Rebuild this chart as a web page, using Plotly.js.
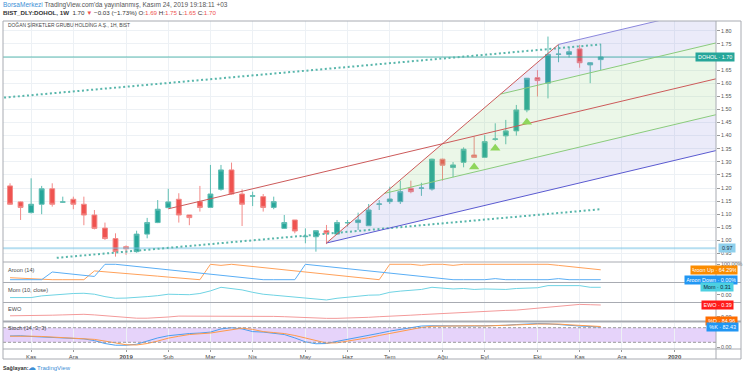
<!DOCTYPE html>
<html><head><meta charset="utf-8">
<script src="https://cdn.plot.ly/plotly-3.0.1.min.js"></script>
<style>html,body{margin:0;padding:0;background:#fff}#chart{width:745px;height:375px}</style>
</head><body><div id="chart"></div>
<script>
// ---- weekly bars (week start) ----
const weeks = ['2018-10-22','2018-10-29','2018-11-05','2018-11-12','2018-11-19','2018-11-26','2018-12-03','2018-12-10','2018-12-17','2018-12-24',
'2018-12-31','2019-01-07','2019-01-14','2019-01-21','2019-01-28','2019-02-04','2019-02-11','2019-02-18','2019-02-25','2019-03-04',
'2019-03-11','2019-03-18','2019-03-25','2019-04-01','2019-04-08','2019-04-15','2019-04-22','2019-04-29','2019-05-06','2019-05-13',
'2019-05-20','2019-05-27','2019-06-03','2019-06-10','2019-06-17','2019-06-24','2019-07-01','2019-07-08','2019-07-15','2019-07-22',
'2019-07-29','2019-08-05','2019-08-12','2019-08-19','2019-08-26','2019-09-02','2019-09-09','2019-09-16','2019-09-23','2019-09-30',
'2019-10-07','2019-10-14','2019-10-21','2019-10-28','2019-11-04','2019-11-11','2019-11-18'];
const openP  = [1.208,1.147,1.106,1.138,1.197,1.146,1.157,1.138,1.097,1.047,1.007,0.976,0.957,1.024,1.068,1.125,1.157,1.097,1.148,1.126,
1.195,1.269,1.177,1.169,1.167,1.126,1.046,1.078,1.014,1.014,1.037,1.024,1.067,1.068,1.056,1.138,1.148,1.148,1.199,1.199,
1.196,1.310,1.278,1.298,1.326,1.317,1.386,1.399,1.418,1.498,1.621,1.600,1.710,1.710,1.731,1.670,1.69];
const highP  = [1.218,1.149,1.237,1.208,1.218,1.167,1.167,1.167,1.116,1.068,1.027,0.981,1.037,1.086,1.154,1.197,1.180,1.097,1.208,1.288,
1.288,1.297,1.195,1.186,1.177,1.167,1.097,1.078,1.046,1.037,1.059,1.078,1.078,1.106,1.139,1.154,1.205,1.228,1.228,1.220,
1.312,1.312,1.299,1.355,1.396,1.402,1.447,1.460,1.517,1.620,1.650,1.778,1.746,1.739,1.746,1.680,1.75];
const lowP   = [1.136,1.078,1.103,1.100,1.129,1.144,1.119,1.058,1.042,1.002,0.938,0.945,0.953,1.008,1.066,1.123,1.068,1.058,1.110,1.126,
1.190,1.175,1.055,1.131,1.110,1.119,1.045,1.027,0.989,0.957,0.986,1.022,1.053,1.040,1.056,1.116,1.139,1.139,1.180,1.170,
1.190,1.228,1.241,1.279,1.316,1.316,1.380,1.367,1.400,1.489,1.549,1.542,1.680,1.698,1.659,1.600,1.65];
const closeP = [1.138,1.126,1.138,1.197,1.138,1.147,1.138,1.097,1.046,1.007,0.957,0.968,1.024,1.068,1.119,1.147,1.097,1.087,1.126,1.177,
1.269,1.177,1.138,1.170,1.126,1.148,1.068,1.036,1.016,1.037,1.026,1.068,1.068,1.078,1.116,1.139,1.158,1.186,1.186,1.200,
1.310,1.287,1.288,1.348,1.317,1.377,1.387,1.418,1.498,1.619,1.610,1.710,1.711,1.720,1.678,1.678,1.70];

// ---- indicators ----
const aroonUp = [13,9,5,0,0,0,0,0,57,52,46,40,35,29,23,17,11,6,0,100,
93,100,93,86,79,71,64,57,50,43,36,29,21,14,7,0,100,100,100,93,
100,100,93,100,100,100,100,100,100,100,100,100,93,86,79,71,64.29];
const aroonDown = [0,0,0,0,50,43,36,29,21,100,100,93,86,79,71,64,57,50,43,36,
29,21,14,7,0,0,0,0,100,93,86,79,71,64,57,50,43,36,29,21,
14,7,0,0,0,0,7,0,0,0,0,0,7,0,0,0,0];
const momentum = [-0.12,-0.12,-0.12,-0.05,-0.01,0.02,0.05,0.06,0.02,-0.08,-0.15,-0.14,-0.12,-0.08,-0.04,0.02,0.01,0.00,0.05,0.16,
0.31,0.25,0.20,0.10,0.02,-0.02,-0.06,-0.10,-0.13,-0.18,-0.22,-0.15,-0.10,-0.06,-0.02,-0.01,0.10,0.15,0.20,0.22,
0.31,0.26,0.24,0.26,0.22,0.24,0.23,0.22,0.26,0.28,0.29,0.38,0.38,0.38,0.38,0.31,0.31];
const ewo = [0.03,0.03,0.03,0.04,0.05,0.06,0.07,0.08,0.06,0.03,0.00,-0.03,-0.05,-0.05,-0.04,-0.01,0.02,0.02,0.02,0.02,
0.02,0.03,0.03,0.03,0.02,0.01,0.00,-0.02,-0.03,-0.05,-0.055,-0.055,-0.05,-0.04,-0.02,0.00,0.01,0.03,0.05,0.07,
0.09,0.11,0.13,0.15,0.16,0.18,0.19,0.21,0.22,0.25,0.29,0.32,0.36,0.39,0.41,0.40,0.39];
const stochK = [46,47,44,42,40,38,36,34,27,15,8,8,12,25,38,47,52,56,58,62,
75,80,75,64,62,58,52,38,22,14,15,24,32,38,48,57,66,74,82,87,
88,87,88,88,87,88,88,90,93,96,97,96,92,89,87,85,82.43];
const stochD = [45,46,45,44,42,40,38,36,32,25,17,10,9,15,25,37,45,52,55,58,
65,72,78,73,64,60,56,48,37,25,17,18,24,31,39,48,56,66,74,81,
86,87,87,88,88,87,88,88,90,93,95,96,95,92,89,87,84.96];

// ---- axis labels ----
const monthTickDates = ['2018-11-05','2018-12-03','2019-01-07','2019-02-04','2019-03-04','2019-04-01','2019-05-06','2019-06-03',
'2019-07-01','2019-08-05','2019-09-02','2019-10-07','2019-11-04','2019-12-02','2020-01-06'];
const monthTickLabels = ['Kas','Ara','<b>2019</b>','Şub','Mar','Nis','May','Haz','Tem','Ağu','Eyl','Eki','Kas','Ara','<b>2020</b>'];
const priceTicks = [0.95,1.00,1.05,1.10,1.15,1.20,1.25,1.30,1.35,1.40,1.45,1.50,1.55,1.60,1.65,1.70,1.75,1.80];

// ---- drawings ----
const signalDates = ['2019-08-26','2019-09-09','2019-09-30'];
const signalPrices = [1.280,1.352,1.451];
const lastPrice = 1.70;
const markedLevel = 0.97;
const upperDotted = [['2018-10-15',1.5435],['2019-11-18',1.748]];
const lowerDotted = [['2018-11-22',0.9335],['2019-11-18',1.119]];
const channelP = ['2019-05-20',0.990];
const channelA = ['2019-10-21',1.748];
const channelB = ['2020-01-27',1.334];
const channelLevels = [0,0.25,0.5,0.75,1];
const midLineStart = '2019-02-04';

const xRange = ['2018-10-17 08:00','2020-02-02 12:00'];

// ---- geometry helpers ----
const ms = d => Date.parse(d);
const tP = ms(channelP[0]), tA = ms(channelA[0]), tB = ms(channelB[0]);
const slope = (channelB[1]-channelP[1])/(tB-tP);
const lowerAt = t => channelP[1] + slope*(t-tP);
const W = channelA[1] - lowerAt(tA);
const levelAt = (t,f) => lowerAt(t) + f*W;
const steep = f => [tP + f*(tA-tP), channelP[1] + f*(channelA[1]-channelP[1])];
const tExt = ms('2020-08-01');
function poly(f0,f1){
  const a=steep(f0), b=steep(f1);
  return {x:[a[0],b[0],tExt,tExt,a[0]], y:[a[1],b[1],levelAt(tExt,f1),levelAt(tExt,f0),a[1]]};
}
const traces = [];
const lav='rgba(118,118,215,0.15)', grn='rgba(130,205,110,0.16)';
[[0,0.25,lav],[0.25,0.75,grn],[0.75,1,lav]].forEach(([f0,f1,c])=>{
  const p=poly(f0,f1);
  traces.push({type:'scatter',mode:'lines',x:p.x,y:p.y,fill:'toself',fillcolor:c,line:{width:0},hoverinfo:'skip',xaxis:'x',yaxis:'y'});
});
// horizontal lines
traces.push({type:'scatter',mode:'lines',x:xRange,y:[markedLevel,markedLevel],line:{color:'rgba(120,195,230,0.55)',width:2},hoverinfo:'skip'});
traces.push({type:'scatter',mode:'lines',x:xRange,y:[lastPrice,lastPrice],line:{color:'rgba(38,166,154,0.75)',width:1},hoverinfo:'skip'});
// dotted channel
[upperDotted,lowerDotted].forEach(l=>{
  traces.push({type:'scatter',mode:'lines',x:l.map(p=>p[0]),y:l.map(p=>p[1]),line:{color:'#58b6ab',width:2,dash:'2px,2.6px'},hoverinfo:'skip'});
});
// fib-like channel lines
const levelColors = {0:'#5a5ad0',0.25:'#8acb7c',0.5:'#cc5a5a',0.75:'#8acb7c',1:'#8a86dc'};
channelLevels.forEach(f=>{
  let t0 = (f===0.5) ? ms(midLineStart) : steep(f)[0];
  traces.push({type:'scatter',mode:'lines',x:[t0,tExt],y:[levelAt(t0,f),levelAt(tExt,f)],line:{color:levelColors[f],width:1},hoverinfo:'skip'});
});
traces.push({type:'scatter',mode:'lines',x:[channelP[0],channelA[0]],y:[channelP[1],channelA[1]],line:{color:'#cc5a5a',width:1},hoverinfo:'skip'});
// candles
traces.push({type:'candlestick',x:weeks,open:openP,high:highP,low:lowP,close:closeP,xaxis:'x',yaxis:'y',
  increasing:{fillcolor:'#26a69a',line:{color:'#5fbdb3',width:1}},
  decreasing:{fillcolor:'#ef5350',line:{color:'#f28a88',width:1}},whiskerwidth:0,hoverinfo:'skip'});
traces.push({type:'scatter',mode:'markers',x:signalDates,y:signalPrices,marker:{symbol:'triangle-up',size:9,color:'#8fd65c',line:{width:0}},hoverinfo:'skip'});
// indicators
traces.push({type:'scatter',mode:'lines',x:weeks,y:aroonUp,yaxis:'y2',line:{color:'#ffa15a',width:1},hoverinfo:'skip'});
traces.push({type:'scatter',mode:'lines',x:weeks,y:aroonDown,yaxis:'y2',line:{color:'#5aaef5',width:1},hoverinfo:'skip'});
traces.push({type:'scatter',mode:'lines',x:weeks,y:momentum,yaxis:'y3',line:{color:'#6fd3e3',width:1},hoverinfo:'skip'});
traces.push({type:'scatter',mode:'lines',x:weeks,y:ewo,yaxis:'y4',line:{color:'#f39a9a',width:1},hoverinfo:'skip'});
traces.push({type:'scatter',mode:'lines',x:weeks,y:stochK,yaxis:'y5',line:{color:'#4a9ef0',width:1},hoverinfo:'skip'});
traces.push({type:'scatter',mode:'lines',x:weeks,y:stochD,yaxis:'y5',line:{color:'#ff9a4a',width:1},hoverinfo:'skip'});

// ---- layout helpers (pixel -> paper) ----
const px = X => (X-3)/713;
const py = Y => (349-Y)/328;
const border = '#a8abb2';
const shapes = [
  {type:'rect',xref:'x',yref:'y5',x0:xRange[0],x1:xRange[1],y0:20,y1:80,fillcolor:'rgba(180,120,240,0.33)',line:{width:0},layer:'below'},
  {type:'line',xref:'x',yref:'y5',x0:xRange[0],x1:xRange[1],y0:80,y1:80,line:{color:'#9a9a9a',width:1,dash:'3px,2px'}},
  {type:'line',xref:'x',yref:'y5',x0:xRange[0],x1:xRange[1],y0:20,y1:20,line:{color:'#9a9a9a',width:1,dash:'3px,2px'}},
];
[[21,1],[262,1],[282.5,1],[302.5,1],[321.5,2],[349,1],[359,1]].forEach(([Y,w])=>{
  shapes.push({type:'line',xref:'paper',yref:'paper',x0:px(3),x1:px(741),y0:py(Y),y1:py(Y),line:{color:border,width:w}});
});
[3,716,741].forEach(X=>{
  shapes.push({type:'line',xref:'paper',yref:'paper',x0:px(X),x1:px(X),y0:py(359),y1:py(21),line:{color:border,width:1}});
});

const tag = (text,x,w,y,yref,bg,fc) => ({text:text,x:x,y:y,xref:'paper',yref:yref,xanchor:'left',yanchor:'middle',showarrow:false,
  width:w,align:'center',bgcolor:bg,borderpad:1.2,font:{size:5.4,color:fc||'#fff'}});
const lab = (text,X,Y,size,color) => ({text:text,x:px(X),y:py(Y),xref:'paper',yref:'paper',xanchor:'left',yanchor:'middle',showarrow:false,
  font:{size:size,color:color||'#4a4a4a'}});
const red='#ef5350';
const annotations = [
  lab('<span style="color:#3d8fd6">BorsaMerkezi</span> TradingView.com\'da yayınlanmış, Kasım 24, 2019 19:18:11 +03',1,5,6.5,'#555'),
  lab('<b>BIST_DLY:DOHOL, 1W</b>  1.70 <span style="color:'+red+'">▼</span> −0.03 (−1.73%) O:<span style="color:'+red+'">1.69</span> H:<span style="color:'+red+'">1.75</span> L:<span style="color:'+red+'">1.65</span> C:<span style="color:'+red+'">1.70</span>',1,13,6.2,'#333'),
  lab('DOĞAN ŞİRKETLER GRUBU HOLDİNG A.Ş., 1H, BIST',6,25.5,4.9,'#444'),
  lab('Aroon (14)',6,270,5.6),
  lab('Mom (10, close)',6,289.7,5.6),
  lab('EWO',6,309,5.6),
  lab('Stoch (14, 3, 3)',6,327.7,5.6),
  lab('<b>Sağlayan:</b>',1,367.7,5.4,'#333'),
  lab('☁',26,367.7,7.5,'#3d8fd6'),
  lab('TradingView',35,367.7,6,'#3d8fd6'),
  tag('DOHOL · 1.70',px(695),36,lastPrice,'y','#26a69a'),
  tag('0.97',px(718),14,markedLevel,'y','#8fd0ec','#234'),
  tag('Aroon Up · 64.29%',px(690),44,aroonUp[aroonUp.length-1],'y2','#fb8c00'),
  tag('Aroon Down · 0.00%',px(684),50,aroonDown[aroonDown.length-1],'y2','#2196f3'),
  tag('Mom · 0.31',px(700),30,momentum[momentum.length-1],'y3','#4dd0e1','#123'),
  tag('EWO · 0.39',px(701),29,ewo[ewo.length-1],'y4','#ff1a1a'),
  tag('%D · 84.96',px(705),29,py(321.3),'paper','#ff6d00'),
  tag('%K · 82.43',px(706),29,stochK[stochK.length-1],'y5','#2196f3'),
];

const sub = (dom,rng,vals,txt) => ({domain:dom,range:rng,side:'right',anchor:'x',tickvals:vals,ticktext:txt,showgrid:false,zeroline:false,
  ticks:'outside',ticklen:3,tickcolor:'#999',tickfont:{size:5.4,color:'#555'},fixedrange:true});
const layout = {
  width:745,height:375,margin:{l:3,r:29,t:21,b:26,pad:0},
  paper_bgcolor:'#fff',plot_bgcolor:'#fff',showlegend:false,hovermode:false,dragmode:false,
  font:{family:'Liberation Sans, Arial, sans-serif',size:6,color:'#4a4a4a'},
  boxgap:0.34,
  xaxis:{type:'date',range:xRange,anchor:'y5',tickvals:monthTickDates,ticktext:monthTickLabels,showgrid:true,gridcolor:'#edf1f5',
    ticks:'outside',ticklen:2,tickcolor:'#999',tickfont:{size:6,color:'#4a4a4a'},rangeslider:{visible:false},zeroline:false,fixedrange:true},
  yaxis:{domain:[py(261.5),1],range:[0.9195,1.8374],side:'right',anchor:'x',tickvals:priceTicks,
    ticktext:priceTicks.map(v=>Math.abs(v-lastPrice)<1e-9?'':v.toFixed(2)),ticks:'outside',ticklen:3,
    tickcolor:'#999',gridcolor:'#edf1f5',tickfont:{size:5.4,color:'#555'},zeroline:false,fixedrange:true},
  yaxis2:sub([py(282.5),py(262.5)],[-18.2,111.7],[100],['100.00%']),
  yaxis3:sub([py(302.5),py(282.5)],[-0.3264,0.5105],[0],['0.00']),
  yaxis4:sub([py(321),py(302.5)],[-0.1433,0.4733],[0],['0.00']),
  yaxis5:sub([0,py(322.5)],[-7.5,101.4],[0],['0.00']),
  shapes:shapes,annotations:annotations
};
Plotly.newPlot('chart',traces,layout,{staticPlot:true,displayModeBar:false});
</script></body></html>
